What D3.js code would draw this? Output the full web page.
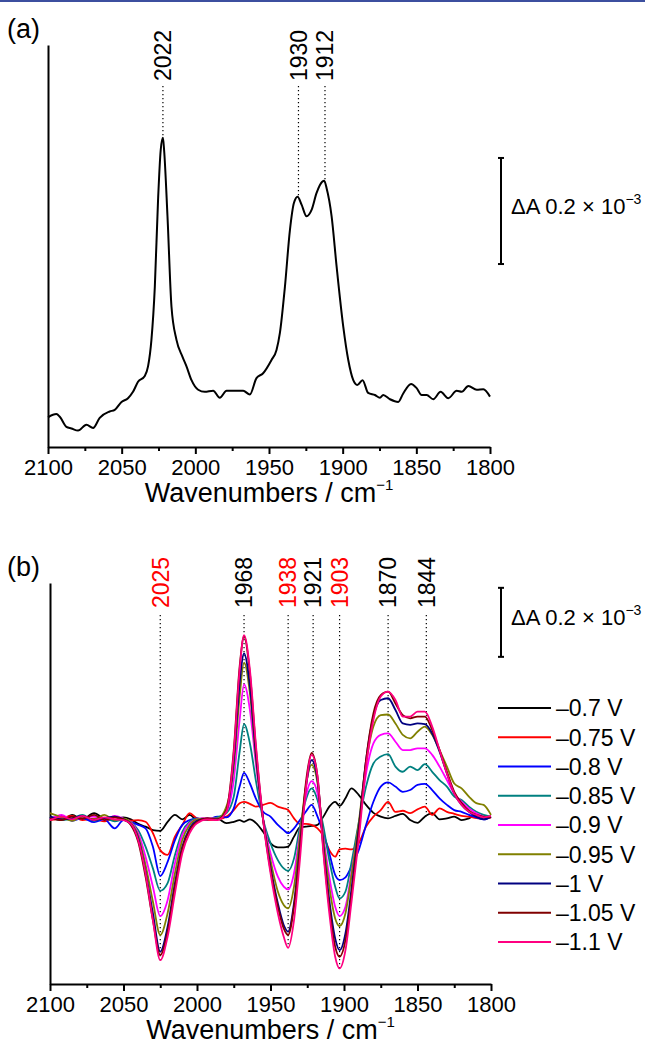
<!DOCTYPE html>
<html lang="en">
<head>
<meta charset="UTF-8">
<title>IR difference spectra</title>
<script src="https://d3js.org/d3.v7.min.js"></script>
<style>
    body { margin: 0; background: #fff; }
    svg text { font-family: "Liberation Sans", Arial, sans-serif; fill: #000; }
    .axis path, .axis line { stroke: #000; stroke-width: 2px; }
    .axis text { font-size: 22px; }
</style>
</head>
<body>
<div id="chart"></div>
<script>
// ---------- panel (a): single spectrum ----------
const wnA = [2100, 2094.3, 2092, 2087.5, 2084.1, 2079.6, 2073.9, 2069.4, 2064.9, 2058.1, 2054.7, 2050.1,
    2045.7, 2042.3, 2038.9, 2034.3, 2032.1, 2029.8, 2027.5, 2025.3, 2023.5, 2022, 2021.2, 2018.9, 2016.2,
    2012.8, 2008.7, 2006, 2002.6, 1998.1, 1993.6, 1987.9, 1983.4, 1978.8, 1967.5, 1963, 1958.5, 1954,
    1948.3, 1944.9, 1942.6, 1939.2, 1935.8, 1933.1, 1930.6, 1927.9, 1924.5, 1921.1, 1917.7, 1913.9, 1912.5,
    1910.9, 1907.5, 1904.1, 1899.6, 1896.2, 1892.8, 1890.1, 1886.5, 1882.7, 1878.1, 1874.7, 1872.5, 1867.9,
    1862.3, 1858.9, 1853.6, 1849.8, 1846.4, 1843, 1838.5, 1833.5, 1828.3, 1822.6, 1819.2, 1814.7, 1809,
    1804.5, 1800];
const dA_a = [0.056, 0.062, 0.057, 0.038, 0.035, 0.031, 0.042, 0.036, 0.055, 0.067, 0.070, 0.085,
    0.092, 0.104, 0.123, 0.134, 0.152, 0.202, 0.302, 0.466, 0.560, 0.583, 0.560, 0.435, 0.265,
    0.202, 0.170, 0.152, 0.126, 0.108, 0.104, 0.106, 0.093, 0.106, 0.106, 0.099, 0.130, 0.139,
    0.164, 0.183, 0.215, 0.302, 0.409, 0.460, 0.472, 0.457, 0.435, 0.447, 0.479, 0.500, 0.502,
    0.488, 0.435, 0.340, 0.227, 0.164, 0.126, 0.117, 0.126, 0.102, 0.098, 0.093, 0.098, 0.090,
    0.085, 0.101, 0.119, 0.111, 0.098, 0.098, 0.090, 0.104, 0.092, 0.106, 0.104, 0.115, 0.108,
    0.109, 0.095];
const peaksA = [2022, 1930, 1912];

// ---------- panel (b): potential series ----------
const wnB = [2100, 2092, 2085, 2078, 2070, 2063, 2056, 2050, 2045, 2040, 2035, 2030, 2025, 2020, 2015,
    2010, 2005, 2000, 1993, 1986, 1980, 1975, 1971, 1968, 1964, 1960, 1955, 1950, 1945, 1941, 1938,
    1934, 1930, 1926, 1922, 1918, 1914, 1910, 1906, 1903, 1899, 1895, 1890, 1885, 1880, 1875, 1870,
    1865, 1860, 1855, 1850, 1845, 1840, 1835, 1830, 1825, 1820, 1815, 1810, 1805, 1800];

const dA_070 = [0.004, -0.006, 0.009, -0.004, 0.014, -0.002, -0.006, 0.002, -0.004, -0.017, -0.025, -0.035,
    -0.037, -0.011, 0.009, -0.004, 0.009, -0.006, -0.004, -0.002, -0.015, -0.011, -0.006, -0.011, -0.004,
    -0.014, -0.040, -0.073, -0.085, -0.085, -0.083, -0.054, -0.027, -0.025, -0.023, -0.020, 0.004, 0.033,
    0.047, 0.035, 0.057, 0.086, 0.067, 0.038, 0.015, 0.004, -0.001, 0.006, 0.012, -0.006, -0.014, 0.004,
    0.014, -0.004, -0.001, 0.004, -0.006, -0.001, 0.009, 0.002, 0.004];
const dA_075 = [-0.006, 0, 0.006, -0.006, -0.002, -0.010, 0.002, -0.004, -0.008, -0.006, -0.011, -0.044,
    -0.093, -0.107, -0.054, -0.020, 0.014, -0.001, -0.006, -0.004, 0.004, 0.023, 0.043, 0.047, 0.041,
    0.033, 0.038, 0.044, 0.033, 0.028, 0.023, -0.001, -0.017, -0.017, -0.020, -0.030, -0.052, -0.093,
    -0.112, -0.091, -0.089, -0.091, -0.073, -0.025, 0.004, 0.023, 0.047, 0.018, 0.021, 0.014, 0.025,
    0.033, 0.009, 0.028, 0.018, 0.012, 0.006, 0.004, 0, -0.002, 0.002];
const dA_080 = [-0.002, 0.006, -0.008, 0, -0.012, -0.004, -0.030, -0.006, -0.012, -0.020, -0.030, -0.083,
    -0.168, -0.127, -0.064, -0.020, -0.006, -0.001, -0.004, 0.004, 0.002, 0.028, 0.091, 0.131, 0.100,
    0.057, 0.018, 0.004, -0.020, -0.035, -0.044, -0.030, -0.006, 0.018, 0.038, 0.004, -0.044, -0.102,
    -0.165, -0.180, -0.172, -0.141, -0.093, -0.020, 0.047, 0.091, 0.103, 0.091, 0.076, 0.081, 0.096,
    0.099, 0.081, 0.057, 0.038, 0.023, 0.018, 0.009, 0.002, -0.004, 0.004];
const dA_085 = [0.002, -0.006, -0.002, 0.009, -0.008, 0, -0.010, -0.004, -0.012, -0.035, -0.083, -0.146,
    -0.211, -0.189, -0.107, -0.040, -0.011, -0.002, -0.004, 0.002, 0.014, 0.062, 0.192, 0.272, 0.216,
    0.110, -0.004, -0.073, -0.122, -0.146, -0.153, -0.117, -0.025, 0.052, 0.086, 0.052, -0.025, -0.122,
    -0.199, -0.233, -0.213, -0.131, -0.015, 0.091, 0.158, 0.178, 0.185, 0.149, 0.134, 0.149, 0.139,
    0.156, 0.134, 0.110, 0.091, 0.062, 0.052, 0.033, 0.018, 0.009, 0.004];
const dA_090 = [-0.004, 0.009, -0.006, 0.002, 0.004, -0.006, 0.006, -0.002, -0.012, -0.044, -0.112, -0.199,
    -0.284, -0.238, -0.131, -0.049, -0.015, -0.004, 0, -0.002, 0.018, 0.110, 0.284, 0.387, 0.313,
    0.158, -0.004, -0.102, -0.170, -0.199, -0.207, -0.160, -0.044, 0.062, 0.107, 0.071, -0.054, -0.170,
    -0.257, -0.284, -0.257, -0.160, -0.025, 0.129, 0.216, 0.241, 0.245, 0.221, 0.197, 0.197, 0.202,
    0.202, 0.183, 0.149, 0.110, 0.071, 0.047, 0.028, 0.014, 0.004, 0.002];
const dA_095 = [0.014, 0.002, -0.008, 0.004, -0.004, 0.009, -0.006, -0.002, -0.014, -0.052, -0.136, -0.242,
    -0.339, -0.276, -0.160, -0.064, -0.020, -0.004, -0.001, -0.002, 0.033, 0.149, 0.352, 0.450, 0.361,
    0.178, -0.006, -0.122, -0.213, -0.252, -0.262, -0.199, -0.054, 0.091, 0.154, 0.100, -0.064, -0.199,
    -0.291, -0.313, -0.276, -0.170, -0.015, 0.158, 0.265, 0.298, 0.300, 0.274, 0.241, 0.231, 0.250,
    0.265, 0.241, 0.197, 0.149, 0.100, 0.086, 0.062, 0.043, 0.038, 0.009];
const dA_100 = [0.004, -0.004, -0.001, 0.006, -0.006, 0, 0.004, -0.004, -0.017, -0.059, -0.156, -0.276,
    -0.387, -0.315, -0.189, -0.083, -0.030, -0.008, -0.002, -0.004, 0.021, 0.168, 0.390, 0.477, 0.381,
    0.187, -0.004, -0.141, -0.247, -0.310, -0.329, -0.247, -0.083, 0.086, 0.168, 0.110, -0.083, -0.238,
    -0.349, -0.383, -0.334, -0.209, -0.030, 0.168, 0.294, 0.342, 0.347, 0.313, 0.274, 0.270, 0.274,
    0.272, 0.245, 0.192, 0.129, 0.071, 0.038, 0.018, 0.004, -0.004, 0.004];
const dA_105 = [-0.001, -0.006, 0.004, -0.002, 0.009, -0.006, 0.002, -0.004, -0.020, -0.069, -0.170, -0.296,
    -0.397, -0.329, -0.199, -0.088, -0.035, -0.011, -0.001, -0.004, 0.023, 0.197, 0.439, 0.526, 0.419,
    0.207, -0.006, -0.151, -0.257, -0.320, -0.339, -0.257, -0.093, 0.100, 0.189, 0.120, -0.093, -0.257,
    -0.373, -0.402, -0.354, -0.228, -0.044, 0.168, 0.303, 0.356, 0.366, 0.332, 0.298, 0.289, 0.294,
    0.294, 0.255, 0.197, 0.134, 0.076, 0.043, 0.021, 0.009, 0.004, 0.002];
const dA_110 = [-0.006, 0.004, -0.004, 0.006, -0.006, 0.002, -0.004, -0.006, -0.017, -0.064, -0.160, -0.296,
    -0.412, -0.344, -0.218, -0.102, -0.044, -0.015, -0.004, -0.006, 0.018, 0.187, 0.429, 0.530, 0.429,
    0.216, -0.006, -0.160, -0.276, -0.344, -0.376, -0.296, -0.122, 0.081, 0.183, 0.120, -0.102, -0.276,
    -0.402, -0.436, -0.383, -0.247, -0.064, 0.149, 0.284, 0.352, 0.366, 0.342, 0.294, 0.294, 0.308,
    0.308, 0.265, 0.197, 0.129, 0.071, 0.038, 0.018, 0.009, 0.002, 0.006];

const seriesNames = ["\u20130.7 V", "\u20130.75 V", "\u20130.8 V", "\u20130.85 V", "\u20130.9 V",
    "\u20130.95 V", "\u20131 V", "\u20131.05 V", "\u20131.1 V"];
const seriesColors = ["#000000", "#ff0000", "#0000ff", "#008080", "#ff00ff",
    "#808000", "#000080", "#800000", "#ff0080"];
const seriesValues = [dA_070, dA_075, dA_080, dA_085, dA_090, dA_095, dA_100, dA_105, dA_110];

const peaksB = [2025, 1968, 1938, 1921, 1903, 1870, 1844];
const peaksBNegative = [2025, 1938, 1903];   // bleaching bands, labelled in red

const xTicksMajor = [2100, 2050, 2000, 1950, 1900, 1850, 1800];
const xTicksMinor = [2075, 2025, 1975, 1925, 1875, 1825];

// ---------- drawing ----------
const W = 645, H = 1051;

const svg = d3.select("#chart").append("svg")
    .attr("width", W).attr("height", H);

// thin rule at the top of the page
svg.append("rect").attr("x", 0).attr("y", 0).attr("width", W).attr("height", 2)
    .attr("fill", "#3c4f9f");

function drawPanel(opt) {
    const g = svg.append("g");
    const x = opt.x, y = opt.y;

    // x axis with major + minor ticks
    g.append("g").attr("class", "axis")
        .attr("transform", `translate(0,${y.range()[0]})`)
        .call(d3.axisBottom(x).tickValues(xTicksMajor).tickSize(7).tickSizeOuter(0).tickPadding(5)
            .tickFormat(d3.format("d")));
    g.append("g").attr("class", "axis")
        .attr("transform", `translate(0,${y.range()[0]})`)
        .call(d3.axisBottom(x).tickValues(xTicksMinor).tickSize(4).tickSizeOuter(0).tickFormat(""))
        .select(".domain").remove();

    // y axis: bare line
    g.append("g").attr("class", "axis")
        .attr("transform", `translate(${x.range()[0]},0)`)
        .call(d3.axisLeft(y).tickValues([]).tickSizeOuter(0));

    // axis title
    const t = g.append("text")
        .attr("x", (x.range()[0] + x.range()[1]) / 2)
        .attr("y", y.range()[0] + 55)
        .attr("text-anchor", "middle")
        .style("font-size", "27px");
    t.append("tspan").text("Wavenumbers / cm");
    t.append("tspan").attr("dy", -12).style("font-size", "15px").text("\u22121");

    // panel label
    g.append("text").attr("x", 7).attr("y", y.range()[1] - 7)
        .style("font-size", "27px").text(opt.label);

    // scale bar
    const bx = 501;
    const y0 = y(opt.barFrom), y1 = y(opt.barFrom + 0.2);
    g.append("line").attr("x1", bx).attr("x2", bx).attr("y1", y0).attr("y2", y1)
        .attr("stroke", "#000").attr("stroke-width", 2);
    [y0, y1].forEach(v => g.append("line").attr("x1", bx - 3).attr("x2", bx + 3)
        .attr("y1", v).attr("y2", v).attr("stroke", "#000").attr("stroke-width", 2));
    const st = g.append("text").attr("x", bx + 10).attr("y", (y0 + y1) / 2 + 3)
        .style("font-size", "22px");
    st.append("tspan").text("\u0394A 0.2 \u00d7 10");
    st.append("tspan").attr("dy", -10).style("font-size", "14px").text("\u22123");

    return g;
}

const line = (x, y) => d3.line()
    .x(d => x(d[0])).y(d => y(d[1]))
    .curve(d3.curveMonotoneX);

// ---- panel (a)
const xA = d3.scaleLinear().domain([2100, 1800]).range([48, 490]);
const yA = d3.scaleLinear().domain([0, 0.758]).range([447, 45]);
const gA = drawPanel({ x: xA, y: yA, label: "(a)", barFrom: 0.345 });

const ptsA = wnA.map((w, i) => [w, dA_a[i]]);

peaksA.forEach(p => {
    const near = ptsA.filter(d => Math.abs(d[0] - p) < 2.5);
    const top = d3.max(near, d => d[1]);
    gA.append("line").attr("x1", xA(p)).attr("x2", xA(p))
        .attr("y1", 86).attr("y2", yA(top))
        .attr("stroke", "#000").attr("stroke-width", 1.2).attr("stroke-dasharray", "1.2,2.8");
    gA.append("text")
        .attr("transform", `translate(${xA(p)},${81}) rotate(-90)`)
        .attr("dy", "0.36em")
        .style("font-size", "23px")
        .text(p);
});

gA.append("path").datum(ptsA)
    .attr("d", line(xA, yA))
    .attr("fill", "none").attr("stroke", "#000").attr("stroke-width", 2);

// ---- panel (b)
const xB = d3.scaleLinear().domain([2100, 1800]).range([50, 491]);
const yB = d3.scaleLinear().domain([-0.481, 0.681]).range([984, 583]);
const gB = drawPanel({ x: xB, y: yB, label: "(b)", barFrom: 0.467 });

const seriesB = seriesValues.map((vals, i) => ({
    name: seriesNames[i], color: seriesColors[i],
    pts: wnB.map((w, j) => [w, vals[j]])
}));

peaksB.forEach(p => {
    const neg = peaksBNegative.includes(p);
    let end = 0;
    if (neg) {
        end = d3.min(seriesB, s => d3.min(s.pts.filter(d => Math.abs(d[0] - p) < 3), d => d[1]));
    }
    gB.append("line").attr("x1", xB(p)).attr("x2", xB(p))
        .attr("y1", 615).attr("y2", yB(end))
        .attr("stroke", "#000").attr("stroke-width", 1.2).attr("stroke-dasharray", "1.2,2.8");
    gB.append("text")
        .attr("transform", `translate(${xB(p)},${608}) rotate(-90)`)
        .attr("dy", "0.36em")
        .style("font-size", "23px")
        .style("fill", neg ? "#ff0000" : "#000")
        .text(p);
});

gB.selectAll("path.spec").data(seriesB).enter()
    .append("path").attr("class", "spec")
    .attr("d", s => line(xB, yB)(s.pts))
    .attr("fill", "none")
    .attr("stroke", s => s.color)
    .attr("stroke-width", 1.8);

// legend
const lg = gB.append("g");
seriesB.forEach((s, i) => {
    const ly = 708 + i * 29.25;
    lg.append("line").attr("x1", 498).attr("x2", 551).attr("y1", ly).attr("y2", ly)
        .attr("stroke", s.color).attr("stroke-width", 2);
    lg.append("text").attr("x", 556).attr("y", ly).attr("dy", "0.36em")
        .style("font-size", "23px").text(s.name);
});
</script>
</body>
</html>
